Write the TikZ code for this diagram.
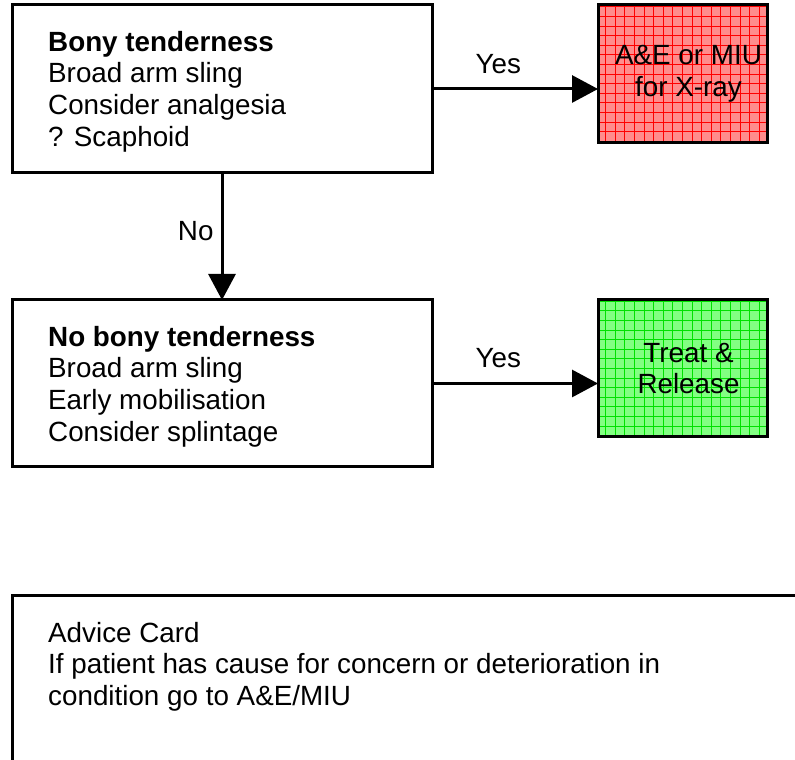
\documentclass[tikz,border=0pt]{standalone}
\usepackage{fontspec}
\setmainfont{Liberation Sans}
\usetikzlibrary{arrows.meta, shapes, positioning}

\definecolor{xraypink}{RGB}{255,140,140}
\definecolor{xraygrid}{RGB}{255,0,0}
\definecolor{releasegreen}{RGB}{130,255,130}
\definecolor{releasegrid}{RGB}{0,225,0}

\newcommand{\boxfont}{\fontsize{27.8}{31.6}\selectfont}

\tikzset{
    flowbox/.style={draw, line width=3pt, inner sep=0pt, outer sep=0pt, anchor=north west},
    gridbox/.style 2 args={flowbox, fill=#1,
        path picture={\draw[#2, line width=0.9pt, step=9.6pt] (path picture bounding box.south west) grid (path picture bounding box.north east);}},
    boxtext/.style={font=\boxfont, align=left, inner sep=0pt, anchor=north west},
    answer/.style={font=\boxfont, inner sep=0pt},
    flowarrow/.style={line width=3pt, -{Triangle[length=26pt, width=27pt]}}
}

\begin{document}
\begin{tikzpicture}[x=1pt, y=1pt]

    \useasboundingbox (0,0) rectangle (795,760);
    \clip (0,0) rectangle (795,760);

    % first row
    \node[flowbox, minimum width=420pt, minimum height=168pt] (bony) at (12,755) {};
    \node[boxtext, below right=26pt and 36pt of bony.north west] (bonytext)
        {\textbf{Bony tenderness}\\Broad arm sling\\Consider analgesia\\? Scaphoid};
    \node[gridbox={xraypink}{xraygrid}, minimum width=169pt, minimum height=138pt] (xray) at (598,755) {};
    \node[answer, align=center, xshift=6pt] (xraytext) at (xray.center) {A\&E or MIU\\for X-ray};

    % second row
    \node[flowbox, minimum width=420pt, minimum height=167pt] (nobony) at (12,460) {};
    \node[boxtext, below right=26pt and 36pt of nobony.north west] (nobonytext)
        {\textbf{No bony tenderness}\\Broad arm sling\\Early mobilisation\\Consider splintage};
    \node[gridbox={releasegreen}{releasegrid}, minimum width=169pt, minimum height=137pt] (release) at (598,460) {};
    \node[answer, align=center, xshift=6pt] (releasetext) at (release.center) {Treat \&\\Release};

    % advice card
    \node[flowbox, minimum width=820pt, minimum height=220pt] (advice) at (12,164) {};
    \node[boxtext, below right=26pt and 36pt of advice.north west] (advicetext)
        {Advice Card\\If patient has cause for concern or deterioration in\\condition go to A\&E/MIU};

    \draw[flowarrow] (bony.east) -- node[answer, pos=0.4, above=14pt] (yestop) {Yes} (bony.east -| xray.west);
    \draw[flowarrow] (bony.south) -- node[answer, pos=0.46, left=7pt] (no) {No} (nobony.north);
    \draw[flowarrow] (nobony.east) -- node[answer, pos=0.4, above=14pt] (yesbottom) {Yes} (nobony.east -| release.west);

\end{tikzpicture}
\end{document}
